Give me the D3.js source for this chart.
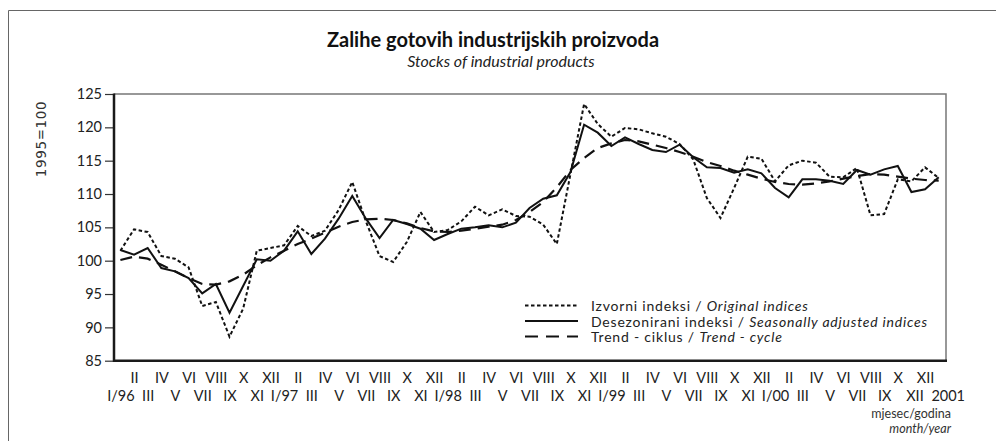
<!DOCTYPE html>
<html>
<head>
<meta charset="utf-8">
<script src="https://cdn.jsdelivr.net/npm/d3@7"></script>
<style>
  body { margin: 0; background: #fff; }
  svg { display: block; font-family: Lato, "Open Sans", sans-serif; }
</style>
</head>
<body>
<svg id="chart" width="996" height="441"></svg>
<script>
// Izvorni indeksi / Original indices, I/96 - I/01
var original = [101.5, 104.7, 104.3, 100.7, 100.3, 99.0, 93.2, 93.8, 88.6, 92.8, 101.5, 101.9,
    102.3, 105.2, 103.7, 104.5, 107.6, 111.8, 105.9, 100.7, 99.8, 102.8, 107.3, 104.3,
    104.6, 105.9, 108.1, 106.8, 107.7, 106.7, 106.6, 105.4, 102.5, 113.0, 123.5, 120.5,
    118.6, 119.9, 119.7, 119.1, 118.6, 117.5, 115.2, 109.4, 106.4, 110.9, 115.6, 115.3,
    111.9, 114.3, 115.0, 114.7, 112.6, 112.5, 113.9, 106.8, 107.0, 112.2, 111.9, 114.0,
    112.4];
// Desezonirani indeksi / Seasonally adjusted indices
var seasonal = [101.6, 100.9, 101.9, 98.9, 98.4, 97.4, 95.1, 96.5, 92.2, 96.2, 100.2, 100.0,
    101.5, 104.4, 101.0, 103.3, 106.3, 109.7, 106.3, 103.4, 106.1, 105.5, 104.8, 103.1,
    104.0, 104.8, 105.0, 105.3, 105.0, 105.7, 107.9, 109.3, 109.8, 113.3, 120.4, 119.2,
    117.2, 118.5, 117.5, 116.6, 116.3, 117.4, 115.5, 114.0, 113.9, 113.2, 113.7, 113.1,
    110.9, 109.5, 112.2, 112.2, 112.0, 111.5, 113.6, 112.9, 113.7, 114.2, 110.3, 110.7,
    112.5];
// Trend - ciklus / Trend - cycle
var trend = [100.1, 100.6, 100.3, 99.4, 98.4, 97.4, 96.5, 96.4, 96.9, 97.9, 99.3, 100.5,
    101.5, 102.5, 103.3, 104.2, 105.1, 105.8, 106.2, 106.3, 106.1, 105.6, 104.9, 104.4,
    104.3, 104.5, 104.8, 105.1, 105.4, 106.1, 107.3, 108.8, 111.0, 113.6, 115.4, 116.9,
    117.6, 118.1, 117.9, 117.4, 116.9, 116.3, 115.6, 114.8, 114.2, 113.5, 112.9, 112.3,
    111.8, 111.5, 111.4, 111.6, 111.9, 112.3, 112.7, 113.0, 112.9, 112.6, 112.3, 112.1,
    112.0];

// x tick labels, upper row = even months, lower row = odd months
var topLabels = ["II","IV","VI","VIII","X","XII", "II","IV","VI","VIII","X","XII",
    "II","IV","VI","VIII","X","XII", "II","IV","VI","VIII","X","XII",
    "II","IV","VI","VIII","X","XII"];
var bottomLabels = ["I/96","III","V","VII","IX","XI", "I/97","III","V","VII","IX","XI",
    "I/98","III","V","VII","IX","XI", "I/99","III","V","VII","IX","XI",
    "I/00","III","V","VII","IX","XII", "2001"];
var yTicks = [85, 90, 95, 100, 105, 110, 115, 120, 125];

var svg = d3.select("#chart");

// outer frame (top + left)
svg.append("path")
    .attr("d", "M8.5,441V10.5H996")
    .attr("fill", "none")
    .attr("stroke", "#666")
    .attr("stroke-width", 1);

svg.append("text")
    .attr("x", 493).attr("y", 47)
    .attr("text-anchor", "middle")
    .attr("font-size", 20).attr("font-weight", "bold").attr("fill", "#111")
    .text("Zalihe gotovih industrijskih proizvoda");
svg.append("text")
    .attr("x", 501).attr("y", 67)
    .attr("text-anchor", "middle")
    .attr("font-size", 16).attr("font-style", "italic").attr("fill", "#222")
    .text("Stocks of industrial products");

var pLeft = 114, pRight = 946, pTop = 94, pBottom = 360.7;

var x = d3.scaleLinear().domain([0, original.length - 1]).range([120.4, 938.7]);
var y = d3.scaleLinear().domain([85, 125]).range([pBottom, pTop]);

// y axis
var yAxis = svg.append("g")
    .attr("transform", "translate(" + pLeft + ",0)")
    .call(d3.axisLeft(y).tickValues(yTicks).tickSize(9).tickPadding(3));
yAxis.select(".domain").remove();
yAxis.selectAll("line").attr("stroke", "#333").attr("stroke-width", 1.2);
yAxis.selectAll("text")
    .attr("font-family", "Lato, sans-serif")
    .attr("font-size", 14.5).attr("fill", "#222");

svg.append("text")
    .attr("transform", "translate(46,139) rotate(-90)")
    .attr("text-anchor", "middle")
    .attr("font-family", "DejaVu Sans, sans-serif")
    .attr("font-size", 13.5).attr("letter-spacing", 0.6).attr("fill", "#333")
    .text("1995=100");

// x axis labels, two rows
var topIdx = topLabels.map(function (d, i) { return 2 * i + 1; });
var botIdx = bottomLabels.map(function (d, i) { return 2 * i; });

var xTop = svg.append("g")
    .attr("transform", "translate(0," + 360 + ")")
    .call(d3.axisBottom(x).tickValues(topIdx).tickSize(0).tickPadding(12.5)
        .tickFormat(function (d, i) { return topLabels[i]; }));
var xBot = svg.append("g")
    .attr("transform", "translate(0," + 360 + ")")
    .call(d3.axisBottom(x).tickValues(botIdx).tickSize(0).tickPadding(31)
        .tickFormat(function (d, i) { return bottomLabels[i]; }));
[xTop, xBot].forEach(function (g) {
    g.select(".domain").remove();
    g.selectAll("text")
        .attr("font-family", "Lato, sans-serif")
        .attr("font-size", 14.5).attr("fill", "#222");
});
// last two labels sit a bit to the right in the original
xBot.selectAll(".tick").filter(function (d) { return d == 58; })
    .select("text").attr("dx", 3);
xBot.selectAll(".tick").filter(function (d) { return d == 60; })
    .select("text").attr("dx", 9);

svg.append("text")
    .attr("x", 951).attr("y", 418)
    .attr("text-anchor", "end")
    .attr("font-size", 12.5).attr("fill", "#333")
    .text("mjesec/godina");
svg.append("text")
    .attr("x", 951).attr("y", 432.5)
    .attr("text-anchor", "end")
    .attr("font-size", 12.5).attr("font-style", "italic").attr("fill", "#333")
    .text("month/year");

// plot frame
svg.append("path")
    .attr("d", "M" + pLeft + "," + pTop + "H" + pRight + "V" + pBottom)
    .attr("fill", "none").attr("stroke", "#777").attr("stroke-width", 1.5);
svg.append("path")
    .attr("d", "M" + pLeft + "," + (pTop - 0.5) + "V" + pBottom + "H" + (pRight + 1))
    .attr("fill", "none").attr("stroke", "#1a1a1a").attr("stroke-width", 2.5);

// series
var line = d3.line()
    .x(function (d, i) { return x(i); })
    .y(function (d) { return y(d); });

var series = [
    { name: "trend", values: trend, dash: "12,7", width: 2.2 },
    { name: "original", values: original, dash: "3.5,2.5", width: 2 },
    { name: "seasonal", values: seasonal, dash: null, width: 2 }
];

svg.selectAll("path.series")
    .data(series)
    .enter()
    .append("path")
    .attr("class", "series")
    .attr("d", function (d) { return line(d.values); })
    .attr("fill", "none")
    .attr("stroke", "#111")
    .attr("stroke-width", function (d) { return d.width; })
    .attr("stroke-dasharray", function (d) { return d.dash; })
    .attr("stroke-linejoin", "miter");

// legend
var legendRows = [
    { dash: "3.5,2.5", ly: 305.5, ty: 311, plain: "Izvorni indeksi / ", ital: "Original indices" },
    { dash: null, ly: 321, ty: 326.5, plain: "Desezonirani indeksi / ", ital: "Seasonally adjusted indices" },
    { dash: "13,8", ly: 336.5, ty: 342, plain: "Trend - ciklus / ", ital: "Trend - cycle" }
];
var lg = svg.append("g");
legendRows.forEach(function (r) {
    lg.append("line")
        .attr("x1", 525).attr("x2", 578)
        .attr("y1", r.ly).attr("y2", r.ly)
        .attr("stroke", "#111").attr("stroke-width", 2.2)
        .attr("stroke-dasharray", r.dash);
    var t = lg.append("text")
        .attr("x", 591).attr("y", r.ty)
        .attr("font-size", 14).attr("letter-spacing", 0.8).attr("fill", "#222");
    t.append("tspan").text(r.plain);
    t.append("tspan").attr("font-style", "italic").text(r.ital);
});
</script>
</body>
</html>
